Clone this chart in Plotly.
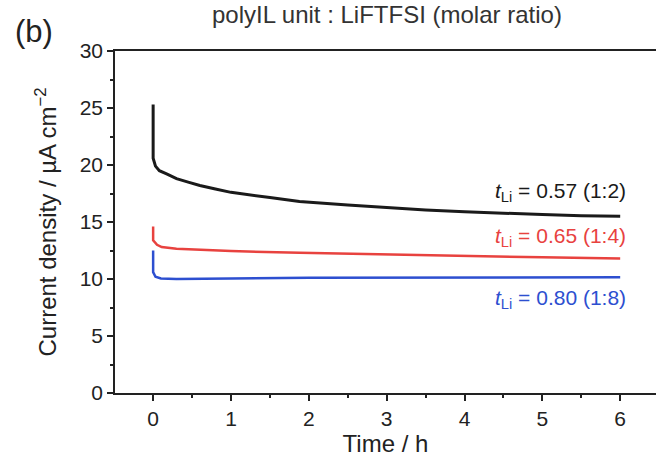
import plotly.graph_objects as go

# Data
time_black = [0, 0.0, 0.03, 0.08, 0.18, 0.3, 0.45, 0.6, 0.8, 1.0, 1.5, 1.88, 2.5, 3.0, 3.5, 4.0, 4.5, 5.0, 5.5, 6.0]
cur_black = [25.3, 20.6, 19.9, 19.5, 19.2, 18.8, 18.5, 18.2, 17.9, 17.6, 17.15, 16.8, 16.5, 16.25, 16.05, 15.9, 15.75, 15.65, 15.55, 15.5]

time_red = [0, 0.0, 0.05, 0.11, 0.3, 0.6, 1.0, 1.88, 3.0, 4.0, 5.0, 6.0]
cur_red = [14.6, 13.4, 13.0, 12.8, 12.65, 12.55, 12.45, 12.3, 12.15, 12.0, 11.9, 11.8]

time_blue = [0, 0.0, 0.03, 0.1, 0.3, 0.6, 1.0, 2.0, 3.0, 4.0, 5.0, 6.0]
cur_blue = [12.5, 10.6, 10.2, 10.05, 10.0, 10.0, 10.05, 10.1, 10.1, 10.1, 10.1, 10.15]

series_labels = ["<i>t</i><sub>Li</sub> = 0.57 (1:2)",
                 "<i>t</i><sub>Li</sub> = 0.65 (1:4)",
                 "<i>t</i><sub>Li</sub> = 0.80 (1:8)"]
label_y = [17.6, 13.7, 8.25]
colors = ["#1a1a1a", "#e8423f", "#2d4fd0"]

x_ticks = [0, 1, 2, 3, 4, 5, 6]
y_ticks = [0, 5, 10, 15, 20, 25, 30]

FONT = "Liberation Sans, Arial, sans-serif"

fig = go.Figure()
for t, c, col, w in [(time_black, cur_black, colors[0], 3),
                     (time_red, cur_red, colors[1], 2.5),
                     (time_blue, cur_blue, colors[2], 2.5)]:
    fig.add_trace(go.Scatter(x=t, y=c, mode="lines",
                             line=dict(color=col, width=w),
                             showlegend=False, hoverinfo="skip"))

for txt, yy, col in zip(series_labels, label_y, colors):
    fig.add_annotation(x=6.1, y=yy, xref="x", yref="y", text=txt,
                       showarrow=False, xanchor="right", yanchor="middle",
                       font=dict(family=FONT, size=21, color=col))

fig.add_annotation(x=0.503, y=1.108, xref="paper", yref="paper", yanchor="middle",
                   xanchor="center", showarrow=False,
                   text="polyIL unit : LiFTFSI (molar ratio)",
                   font=dict(family=FONT, size=24, color="#333"))
fig.add_annotation(x=-0.149, y=1.056, xref="paper", yref="paper",
                   xanchor="center", yanchor="middle", showarrow=False,
                   text="(b)", font=dict(family=FONT, size=31, color="#222"))

axis_common = dict(showline=True, linecolor="#222", linewidth=1.5,
                   ticks="outside", ticklen=6, tickwidth=1.5, tickcolor="#222",
                   showgrid=False, zeroline=False,
                   tickfont=dict(family=FONT, size=21, color="#222"))

fig.update_xaxes(range=[-0.49, 6.46], tickvals=x_ticks, mirror=True,
                 minor=dict(ticks="outside", dtick=0.5, ticklen=3, tickwidth=1.5, tickcolor="#222"),
                 title=dict(text="Time / h", font=dict(family=FONT, size=24, color="#222"), standoff=8),
                 **axis_common)
fig.update_yaxes(range=[0, 30], tickvals=y_ticks, mirror=False,
                 minor=dict(ticks="outside", dtick=2.5, ticklen=3, tickwidth=1.5, tickcolor="#222"),
                 title=dict(text="Current density / µA cm<sup>−2</sup>",
                            font=dict(family=FONT, size=24, color="#222"), standoff=16),
                 **axis_common)

fig.update_layout(width=656, height=457,
                  margin=dict(l=115, r=0, t=51, b=64),
                  paper_bgcolor="white", plot_bgcolor="white",
                  font=dict(family=FONT))

fig.write_html("out.html", config={"displayModeBar": False},
               post_script="document.body.style.margin='0';document.body.style.overflow='hidden';")
